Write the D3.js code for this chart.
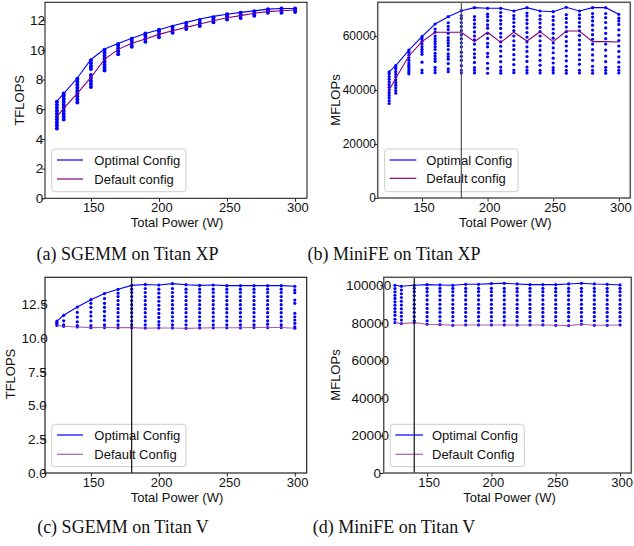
<!DOCTYPE html>
<html><head><meta charset="utf-8">
<script src="https://cdn.jsdelivr.net/npm/d3@7"></script>
<style>
html,body{margin:0;padding:0;background:#fff;}
svg{display:block;}
</style></head>
<body>
<svg id="chart" width="634" height="546"></svg>
<script>
// ---------------- DATA ----------------
const power = [125,130,140,150,160,170,180,190,200,210,220,230,240,250,260,270,280,290,300];
const powerTicks = [150,200,250,300];

// (a) SGEMM on Titan XP (TFLOPS)
const aOptimal = [6.55,7.05,8.1,9.35,10.05,10.42,10.78,11.1,11.35,11.62,11.85,12.07,12.25,12.4,12.52,12.62,12.74,12.78,12.78];
const aDefault = [5.5,6.06,7.07,8.15,9.36,10.03,10.44,10.73,11.04,11.29,11.51,11.74,11.96,12.16,12.3,12.46,12.57,12.63,12.68];
const aPoints = [
  [4.7,4.9,5.1,5.3,5.5,5.7,5.9,6.1,6.3,6.5],
  [5.3,5.5,5.7,5.9,6.1,6.3,6.5,6.7,6.9,7.05],
  [6.45,6.65,6.85,7.05,7.25,7.45,7.65,7.85,8.05],
  [7.5,7.7,7.9,8.1,8.3,8.7,8.9,9.1,9.3],
  [8.6,8.8,9.0,9.2,9.4,9.6,9.8,10.0],
  [9.7,9.9,10.1,10.3,10.4],
  [10.2,10.4,10.6,10.75],
  [10.55,10.75,10.95,11.1],
  [10.85,11.05,11.25,11.35],
  [11.15,11.35,11.55],
  [11.4,11.6,11.8],
  [11.6,11.8,12.0],
  [11.85,12.05,12.2],
  [12.05,12.25,12.4],
  [12.15,12.35,12.5],
  [12.3,12.45,12.6],
  [12.5,12.65,12.74],
  [12.5,12.65,12.78],
  [12.55,12.7,12.78]
];
const aYTicks = [0,2,4,6,8,10,12];

// (b) MiniFE on Titan XP (MFLOPs)
const bOptimal = [46780,49000,54800,59750,64450,67150,69380,70490,70260,70260,69260,70490,69260,69000,70630,69260,70490,70490,68040];
const bDefault = [40000,44330,52600,57900,61370,61370,61370,57900,61370,57660,61370,58150,61600,57900,61860,61860,57900,57900,57780];
const bPoints = [
  [35000,36000,37000,38000,39000,40000,41000,42000,43000,44000,45000,46000,46700],
  [38800,39800,40800,41800,42800,43800,44800,45800,46800,47800,48400,49000],
  [46000,46800,47600,48400,49200,50000,51000,52000,53000,54000,54800],
  [46400,47400,50300,53200,54200,55100,56000,57000,58000,59000,59750],
  [46400,47400,48400,50600,51600,52600,53600,55000,56000,57000,58000,59000,60000,61400,62600,64450],
  [46800,47800,49800,51400,52400,53400,55000,56400,57400,58400,59400,61000,62400,63600,64900,67150],
  [46300,47300,49000,51000,52500,54000,56000,57500,59000,60500,62000,63500,65000,66500,67600,69380],
  [46300,47300,48300,50200,52000,53400,55000,57000,58600,60000,61500,63200,64500,66000,67200,70490],
  [46200,48000,49900,52300,53600,56000,57300,59100,61000,62900,64100,65700,67100,68100,70260],
  [46200,47200,48500,50500,52500,54400,56200,57800,59600,61000,62800,64400,65800,67300,68700,70260],
  [46400,47400,49400,51300,53100,55000,56500,58200,60000,62000,63500,65000,66400,67600,69260],
  [46300,47300,48500,50600,52400,54300,56000,57800,59600,61300,63000,64600,66000,67400,68500,70490],
  [46300,47300,49200,51000,53000,54800,56400,58200,60000,61600,63200,64800,66200,67500,69260],
  [46300,47300,48300,50000,51800,53800,55600,57400,59200,61000,62600,64200,65800,67200,69000],
  [46200,47300,48800,50800,52600,54500,56300,58000,59800,61600,63300,65000,66500,67900,70630],
  [46300,47300,49500,51200,53000,55000,56800,58500,60200,61900,63500,65000,66500,67800,69260],
  [46200,47300,48800,51000,53000,55000,57000,58800,60500,62200,64000,65600,67000,68300,70490],
  [46200,47300,48400,50500,52600,54800,57000,59000,61000,63000,65000,66800,68300,70490],
  [46300,47300,48500,50300,52300,54300,56300,58300,60300,62300,64300,65600,66600,68040]
];
const bYTicks = [0,20000,40000,60000];

// (c) SGEMM on Titan V (TFLOPS)
const cOptimal = [11.28,11.71,12.32,12.87,13.32,13.64,13.93,14.0,13.96,14.06,13.98,13.93,13.96,13.91,13.91,13.91,13.91,13.91,13.86];
const cDefault = [10.96,10.89,10.84,10.79,10.8,10.79,10.79,10.76,10.77,10.77,10.74,10.77,10.78,10.78,10.78,10.8,10.8,10.8,10.75];
const cPoints = [
  [10.96,11.08,11.18,11.28],
  [10.89,11.0,11.3,11.71],
  [10.84,10.94,11.23,11.58,11.93,12.32],
  [10.79,10.95,11.3,11.65,11.95,12.3,12.6,12.87],
  [10.8,11.0,11.35,11.65,12.0,12.3,12.6,12.95,13.32],
  [10.79,11.0,11.3,11.6,11.9,12.2,12.5,12.8,13.1,13.35,13.64],
  [10.79,11.0,11.3,11.6,11.9,12.2,12.5,12.8,13.1,13.4,13.65,13.93],
  [10.76,11.0,11.3,11.6,11.9,12.2,12.5,12.8,13.1,13.4,13.7,14.0],
  [10.77,11.0,11.25,11.55,11.85,12.15,12.45,12.75,13.05,13.35,13.65,13.96],
  [10.77,11.0,11.3,11.6,11.9,12.2,12.5,12.8,13.1,13.4,13.7,14.06],
  [10.74,11.0,11.3,11.6,11.9,12.2,12.5,12.8,13.1,13.4,13.65,13.98],
  [10.77,11.0,11.3,11.6,11.9,12.2,12.5,12.8,13.1,13.4,13.65,13.93],
  [10.78,11.0,11.3,11.6,11.9,12.2,12.5,12.8,13.1,13.4,13.65,13.96],
  [10.78,11.0,11.3,11.6,11.9,12.2,12.5,12.8,13.1,13.4,13.65,13.91],
  [10.78,11.0,11.3,11.6,11.9,12.2,12.5,12.8,13.1,13.4,13.65,13.91],
  [10.8,11.0,11.3,11.6,11.9,12.2,12.5,12.8,13.1,13.4,13.65,13.91],
  [10.8,11.05,11.3,11.6,11.9,12.2,12.5,12.8,13.1,13.4,13.65,13.91],
  [10.8,11.0,11.3,11.6,11.9,12.2,12.5,12.8,13.1,13.4,13.65,13.91],
  [10.75,10.86,11.11,11.36,11.6,11.86,12.6,12.84,13.39,13.59,13.86]
];
const cYTicks = [0,2.5,5,7.5,10,12.5];

// (d) MiniFE on Titan V (MFLOPs)
const dOptimal = [100010,99470,100000,100360,100180,100000,100540,100540,100900,101070,100720,100360,100360,100360,100720,101070,100720,100540,100180];
const dDefault = [80130,79600,80130,79240,79060,78700,78880,78880,78880,78880,78880,78880,78880,78700,78530,79240,78700,78700,78880];
const dPoints = [
  [80130,81900,84000,85800,87600,89400,91200,93000,94700,96500,98300,100000],
  [79600,81500,83500,85500,87500,89500,91500,93500,95500,97500,99470],
  [80130,81100,83300,85600,87700,89900,92200,94500,96600,98400,100000],
  [79240,81100,83300,85600,87700,89900,92200,94500,96600,98400,100360],
  [79060,81100,83300,85600,87700,89900,92200,94500,96600,98400,100180],
  [78700,81100,83300,85600,87700,89900,92200,94500,96600,98400,100000],
  [78880,81100,83300,85600,87700,89900,92200,94500,96600,98400,100540],
  [78880,81100,83300,85600,87700,89900,92200,94500,96600,98400,100540],
  [78880,81100,83300,85600,87700,89900,92200,94500,96600,98400,100900],
  [78880,81100,83300,85600,87700,89900,92200,94500,96600,98400,101070],
  [78880,81100,83300,85600,87700,89900,92200,94500,96600,98400,100720],
  [78880,81100,83300,85600,87700,89900,92200,94500,96600,98400,100360],
  [78880,81100,83300,85600,87700,89900,92200,94500,96600,98400,100360],
  [78700,81100,83300,85600,87700,89900,92200,94500,96600,98400,100360],
  [78530,81100,83300,85600,87700,89900,92200,94500,96600,98400,100720],
  [79240,81100,83300,85600,87700,89900,92200,94500,96600,98400,101070],
  [78700,81100,83300,85600,87700,89900,92200,94500,96600,98400,100720],
  [78700,81100,83300,85600,87700,89900,92200,94500,96600,98400,100540],
  [78880,81100,83300,85600,87700,89900,92200,94500,96600,98400,100180]
];
const dYTicks = [0,20000,40000,60000,80000,100000];

const legendLabelsXP = ["Optimal Config","Default config"];
const legendLabelsV  = ["Optimal Config","Default Config"];
const captions = ["(a) SGEMM on Titan XP","(b) MiniFE on Titan XP","(c) SGEMM on Titan V","(d) MiniFE on Titan V"];
const xLabel = "Total Power (W)";

// ---------------- LAYOUT ----------------
const SANS = "'Liberation Sans', Arial, sans-serif";
const SERIF = "'Liberation Serif', 'Times New Roman', serif";
const xDomain = [116.25, 308.75];
const panels = [
  {opt:aOptimal, def:aDefault, pts:aPoints, yTicks:aYTicks, fmt:d3.format("d"), yMax:13.2,
   left:45, right:307, top:2.3, bottom:198.3, r:2, spine:"#111", spineW:1, defColor:"#800080", defOp:1,
   yLab:"TFLOPS", yLabX:24, yLabY:100.3, xLabX:177, xLabY:227.3, off:-3.4, extra:1.7, xdx:2.3, yfs:13.5,
   leg:{x:51.7,y:149,w:134.3,h:42.7,l1:57,l2:83,tx:94.3,r1:160,r2:179}, legLabels:legendLabelsXP,
   vline:null, cap:captions[0], capX:127.5, capY:260},
  {opt:bOptimal, def:bDefault, pts:bPoints, yTicks:bYTicks, fmt:d3.format("d"), yMax:72480,
   left:377.7, right:630.3, top:2.3, bottom:198, r:1.6, spine:"#555", spineW:1.5, defColor:"#800080", defOp:1,
   yLab:"MFLOPs", yLabX:340.3, yLabY:100, xLabX:505.3, xLabY:227.3, off:-1.7, extra:0, xdx:1.5, yfs:12,
   leg:{x:384.7,y:149,w:133.3,h:42.7,l1:389.7,l2:416.3,tx:426.3,r1:160,r2:178.3}, legLabels:legendLabelsXP,
   vline:180, vColor:"#555", cap:captions[1], capX:394, capY:260},
  {opt:cOptimal, def:cDefault, pts:cPoints, yTicks:cYTicks, fmt:d3.format(".1f"), yMax:14.53,
   left:45, right:306.7, top:277.3, bottom:473, r:1.6, spine:"#222", spineW:1.2, defColor:"#9a3a9a", defOp:0.8,
   yLab:"TFLOPS", yLabX:15, yLabY:374, xLabX:177, xLabY:501.5, off:-1.3, extra:1, xdx:2.3, yfs:13.5,
   leg:{x:51.7,y:424.3,w:134.3,h:42.4,l1:57,l2:83,tx:94.3,r1:435,r2:454.3}, legLabels:legendLabelsV,
   vline:180, vColor:"#111", cap:captions[2], capX:123, capY:533},
  {opt:dOptimal, def:dDefault, pts:dPoints, yTicks:dYTicks, fmt:d3.format("d"), yMax:104260,
   left:383.7, right:631.3, top:277.3, bottom:473, r:1.6, spine:"#555", spineW:1.5, defColor:"#9a3a9a", defOp:0.8,
   yLab:"MFLOPs", yLabX:339.7, yLabY:375, xLabX:509.5, xLabY:501.5, off:-4.8, extra:2.04, xdx:1.5, yfs:13.5,
   leg:{x:390.3,y:424.3,w:134,h:42.4,l1:395.3,l2:423,tx:432,r1:435,r2:454.3}, legLabels:legendLabelsV,
   vline:140, vColor:"#111", cap:captions[3], capX:394, capY:533}
];

const svg = d3.select("#chart");
const BLUE = "#0000ff";

panels.forEach(p => {
  const x = d3.scaleLinear().domain(xDomain).range([p.left, p.right]);
  const y = d3.scaleLinear().domain([0, p.yMax]).range([p.bottom, p.top]);
  const g = svg.append("g");

  // scatter points
  const flat = [];
  p.pts.forEach((col, i) => col.forEach(v => flat.push({x: power[i], v})));
  g.append("g").selectAll("circle").data(flat).join("circle")
    .attr("cx", d => x(d.x)).attr("cy", d => y(d.v)).attr("r", p.r).attr("fill", BLUE);

  // lines
  const line = d3.line().x((d, i) => x(power[i])).y(d => y(d));
  g.append("path").attr("d", line(p.def)).attr("fill", "none")
    .attr("stroke", p.defColor).attr("stroke-opacity", p.defOp).attr("stroke-width", 1.1);
  g.append("path").attr("d", line(p.opt)).attr("fill", "none")
    .attr("stroke", BLUE).attr("stroke-width", 1.1);

  // axes
  const xAxis = d3.axisBottom(x).tickValues(powerTicks).tickSize(3.5).tickPadding(1.2).tickSizeOuter(0);
  const gx = g.append("g").attr("transform", `translate(0,${p.bottom})`).call(xAxis);
  gx.select(".domain").remove();
  gx.selectAll("line").attr("stroke", "#222");
  gx.selectAll("text").style("font-size", "13px").attr("fill", "#111")
    .style("font-family", SANS).attr("dx", p.xdx);

  const yAxis = d3.axisLeft(y).tickValues(p.yTicks).tickFormat(p.fmt).tickSize(3.5).tickSizeOuter(0);
  const gy = g.append("g").attr("transform", `translate(${p.left},0)`).call(yAxis);
  gy.select(".domain").remove();
  gy.selectAll("line").attr("stroke", "#222");
  gy.selectAll("text").style("font-size", p.yfs + "px").attr("fill", "#111")
    .style("font-family", SANS)
    .attr("x", function(d){ return p.off + p.fmt(d).length * p.extra; });

  // legend
  const L = p.leg;
  g.append("rect").attr("x", L.x).attr("y", L.y).attr("width", L.w).attr("height", L.h)
    .attr("rx", 3).attr("fill", "#fff").attr("fill-opacity", 0.8)
    .attr("stroke", "#cccccc").attr("stroke-width", 1);
  const rows = [{y:L.r1, c:BLUE, o:1, t:p.legLabels[0]}, {y:L.r2, c:p.defColor, o:p.defOp, t:p.legLabels[1]}];
  rows.forEach(rw => {
    g.append("line").attr("x1", L.l1).attr("x2", L.l2).attr("y1", rw.y).attr("y2", rw.y)
      .attr("stroke", rw.c).attr("stroke-opacity", rw.o).attr("stroke-width", 1.2);
    g.append("text").attr("x", L.tx).attr("y", rw.y + 4.7)
      .style("font-size", "13px").style("font-family", SANS)
      .attr("fill", "#111").text(rw.t);
  });

  // vertical marker line
  if (p.vline !== null) {
    g.append("line").attr("x1", x(p.vline)).attr("x2", x(p.vline))
      .attr("y1", p.top).attr("y2", p.bottom).attr("stroke", p.vColor).attr("stroke-width", 1.2);
  }

  // spines
  g.append("rect").attr("x", p.left).attr("y", p.top)
    .attr("width", p.right - p.left).attr("height", p.bottom - p.top)
    .attr("fill", "none").attr("stroke", p.spine).attr("stroke-width", p.spineW);

  // axis labels
  g.append("text").attr("x", p.xLabX).attr("y", p.xLabY).attr("text-anchor", "middle")
    .style("font-size", "13px").style("font-family", SANS).attr("fill", "#111").text(xLabel);
  g.append("text").attr("transform", `translate(${p.yLabX},${p.yLabY}) rotate(-90)`)
    .attr("text-anchor", "middle").style("font-size", "13px").style("font-family", SANS)
    .attr("fill", "#111").text(p.yLab);

  // caption
  svg.append("text").attr("x", p.capX).attr("y", p.capY).attr("text-anchor", "middle")
    .style("font-family", SERIF).style("font-size", "18px")
    .attr("fill", "#111").text(p.cap);
});
</script>
</body></html>
